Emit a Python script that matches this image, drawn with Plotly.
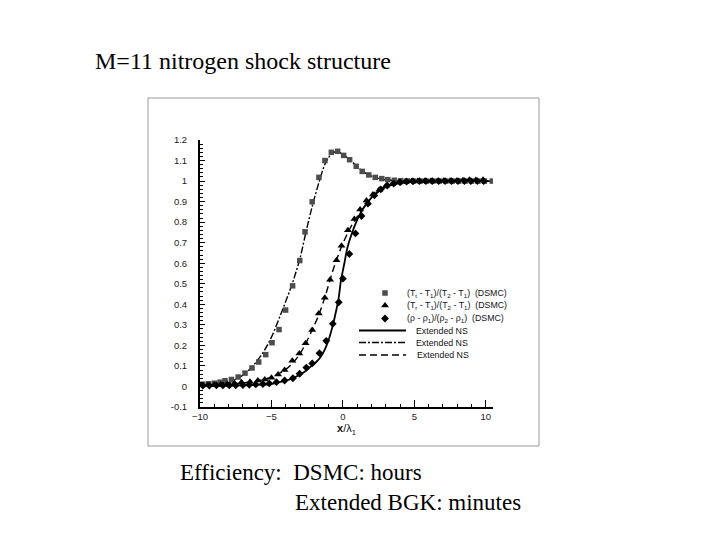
import plotly.graph_objects as go

# ---------------- data ----------------
# DSMC translational temperature  (T_t - T1)/(T2 - T1)
tt_x = [-9.8, -9.4, -9.0, -8.6, -8.25, -7.8, -7.33, -6.85, -6.36, -5.89, -5.4, -4.96,
        -4.47, -4.01, -3.52, -3.02, -2.65, -2.15, -1.68, -1.26, -0.81, -0.37, 0.05, 0.47,
        0.93, 1.35, 1.81, 2.26, 2.72, 3.14, 3.6, 4.05, 4.5, 4.95, 5.4, 5.85, 6.3, 6.75,
        7.2, 7.65, 8.1, 8.55, 9.0, 9.45, 9.9, 10.45]
tt_y = [0.011, 0.013, 0.016, 0.021, 0.028, 0.034, 0.046, 0.065, 0.09, 0.119, 0.155, 0.213,
        0.277, 0.372, 0.49, 0.613, 0.753, 0.899, 1.018, 1.10, 1.14, 1.145, 1.125, 1.104,
        1.072, 1.047, 1.03, 1.018, 1.012, 1.007, 1.004, 1.002, 1.001, 1.0, 1.0, 1.0, 1.0,
        1.0, 1.0, 1.0, 1.0, 1.0, 1.0, 1.0, 1.0, 1.0]

# DSMC rotational temperature  (T_r - T1)/(T2 - T1)
tr_x = [-9.9, -9.45, -9.0, -8.55, -8.1, -7.6, -7.1, -6.5, -5.95, -5.47, -5.0, -4.54,
        -4.08, -3.54, -3.05, -2.61, -2.15, -1.69, -1.27, -0.9, -0.45, -0.1, 0.35, 0.8,
        1.2, 1.65, 2.1, 2.55, 3.0, 3.45, 3.9, 4.35, 4.8, 5.25, 5.7, 6.15, 6.6, 7.05,
        7.5, 7.95, 8.4, 8.85, 9.3, 9.8]
tr_y = [0.006, 0.007, 0.008, 0.01, 0.012, 0.016, 0.02, 0.023, 0.029, 0.034, 0.043, 0.058,
        0.08, 0.125, 0.16, 0.21, 0.275, 0.355, 0.432, 0.52, 0.615, 0.685, 0.76, 0.815,
        0.862, 0.905, 0.935, 0.958, 0.975, 0.985, 0.992, 0.996, 0.999, 1.0, 1.0, 1.0,
        1.0, 1.001, 1.001, 1.002, 1.004, 1.006, 1.005, 1.006]

# DSMC density  (rho - rho1)/(rho2 - rho1)
rho_x = [-9.8, -9.35, -8.85, -8.4, -7.95, -7.5, -7.0, -6.55, -6.1, -5.6, -5.15, -4.65,
         -4.08, -3.5, -3.03, -2.56, -2.15, -1.64, -1.17, -0.71, -0.29, 0.0, 0.45, 0.88,
         1.3, 1.75, 2.2, 2.65, 3.1, 3.55, 4.0, 4.45, 4.9, 5.35, 5.8, 6.25, 6.7, 7.15,
         7.6, 8.05, 8.5, 8.95, 9.4, 9.85]
rho_y = [0.004, 0.004, 0.005, 0.005, 0.005, 0.006, 0.007, 0.008, 0.01, 0.012, 0.015, 0.021,
         0.029, 0.04, 0.062, 0.092, 0.112, 0.162, 0.222, 0.305, 0.41, 0.525, 0.645, 0.745,
         0.83, 0.89, 0.93, 0.96, 0.978, 0.988, 0.994, 0.997, 0.999, 1.0, 1.0, 1.0, 1.0,
         1.0, 1.0, 1.0, 1.0, 1.0, 1.0, 1.0]

# Extended NS curves
ns_tt_x = [-10, -9, -8.5, -8, -7.5, -7, -6.5, -6, -5.5, -5, -4.5, -4, -3.5, -3, -2.56,
           -2.1, -1.65, -1.3, -1.0, -0.7, -0.45, -0.2, 0.1, 0.4, 0.7, 1.0, 1.5, 2.0, 2.5,
           3.0, 3.5, 4.0, 5.0, 6.0, 8.0, 10.5]
ns_tt_y = [0.006, 0.008, 0.012, 0.018, 0.035, 0.055, 0.085, 0.125, 0.175, 0.24, 0.325,
           0.415, 0.51, 0.625, 0.76, 0.89, 1.0, 1.075, 1.115, 1.137, 1.143, 1.138, 1.125,
           1.108, 1.09, 1.07, 1.042, 1.024, 1.013, 1.007, 1.004, 1.002, 1.0, 1.0, 1.0, 1.0]

ns_tr_x = [-10, -9, -8, -7, -6, -5, -4.5, -4, -3.5, -3, -2.6, -2.2, -1.8, -1.4, -1.0,
           -0.7, -0.4, -0.1, 0.2, 0.5, 0.8, 1.2, 1.6, 2.0, 2.5, 3.0, 3.5, 4.0, 4.5, 5.0,
           6.0, 10.5]
ns_tr_y = [0.004, 0.006, 0.01, 0.017, 0.027, 0.045, 0.062, 0.083, 0.115, 0.16, 0.21, 0.268,
           0.33, 0.405, 0.495, 0.565, 0.625, 0.68, 0.728, 0.77, 0.805, 0.848, 0.885, 0.917,
           0.948, 0.97, 0.984, 0.992, 0.996, 0.999, 1.0, 1.0]

ns_rho_x = [-10, -8, -6, -5, -4.43, -4, -3.5, -3, -2.56, -2.2, -1.87, -1.6, -1.41, -1.2,
            -0.94, -0.7, -0.47, -0.3, -0.13, 0.0, 0.1, 0.33, 0.6, 0.9, 1.2, 1.6, 2.0, 2.5,
            3.0, 3.5, 4.0, 5.0, 6.0, 10.5]
ns_rho_y = [0.002, 0.004, 0.008, 0.012, 0.021, 0.028, 0.04, 0.058, 0.078, 0.1, 0.119, 0.14,
            0.16, 0.19, 0.24, 0.3, 0.37, 0.43, 0.52, 0.565, 0.6, 0.68, 0.74, 0.795, 0.84,
            0.885, 0.92, 0.952, 0.973, 0.986, 0.993, 0.999, 1.0, 1.0]

legend_labels = [
    "(T<sub>t</sub> - T<sub>1</sub>)/(T<sub>2</sub> - T<sub>1</sub>)  (DSMC)",
    "(T<sub>r</sub> - T<sub>1</sub>)/(T<sub>2</sub> - T<sub>1</sub>)  (DSMC)",
    "(ρ - ρ<sub>1</sub>)/(ρ<sub>2</sub> - ρ<sub>1</sub>)  (DSMC)",
    "Extended NS", "Extended NS", "Extended NS",
]
x_ticks = [-10, -5, 0, 5, 10]
y_ticks = [-0.1, 0, 0.1, 0.2, 0.3, 0.4, 0.5, 0.6, 0.7, 0.8, 0.9, 1, 1.1, 1.2]

title_text = "M=11 nitrogen shock structure"
note_line1 = "Efficiency:&nbsp;&nbsp;DSMC: hours"
note_line2 = "Extended BGK: minutes"

# ---------------- figure ----------------
# the page body has an 8px margin, so the figure is drawn 8px in from the window corner
OFF = 8
W, H = 720 - OFF, 540 - OFF
SANS = "Liberation Sans, Arial, sans-serif"
SERIF = "Liberation Serif, Times New Roman, serif"


def px(v):
    """window pixel -> figure pixel"""
    return v - OFF


SQ = dict(symbol="square", size=5.5, color="#4d4d4d")
TRI = dict(symbol="triangle-up", size=7, color="black")
DIA = dict(symbol="diamond", size=6, color="black")

fig = go.Figure()

line_style = dict(color="black", width=1.4)
fig.add_trace(go.Scatter(x=ns_tt_x, y=ns_tt_y, mode="lines", line_shape="spline",
                         line=dict(line_style, dash="7px,2px,2px,2px"), showlegend=False))
fig.add_trace(go.Scatter(x=ns_tr_x, y=ns_tr_y, mode="lines", line_shape="spline",
                         line=dict(line_style, dash="7px,4px"), showlegend=False))
fig.add_trace(go.Scatter(x=ns_rho_x, y=ns_rho_y, mode="lines", line_shape="spline",
                         line=dict(color="black", width=1.8), showlegend=False))

fig.add_trace(go.Scatter(x=tt_x, y=tt_y, mode="markers", showlegend=False, marker=SQ))
fig.add_trace(go.Scatter(x=tr_x, y=tr_y, mode="markers", showlegend=False, marker=TRI))
fig.add_trace(go.Scatter(x=rho_x, y=rho_y, mode="markers", showlegend=False, marker=DIA))

# legend, drawn in a pixel-coordinate overlay axis
leg_marker_x = px(385)
leg_rows_y = [px(v) for v in [293, 305.5, 318.5, 330.5, 342.5, 355]]
for mk, yy in zip([SQ, TRI, DIA], leg_rows_y[:3]):
    fig.add_trace(go.Scatter(x=[leg_marker_x], y=[yy], xaxis="x2", yaxis="y2", mode="markers",
                             marker=mk, showlegend=False, hoverinfo="skip"))
leg_dashes = ["solid", "7px,2px,2px,2px", "7px,4px"]
for d, yy in zip(leg_dashes, leg_rows_y[3:]):
    fig.add_shape(type="line", xref="x2", yref="y2", x0=px(359), x1=px(406), y0=yy, y1=yy,
                  line=dict(color="black", width=1.4 if d != "solid" else 1.8, dash=d))
leg_text_x = [px(v) for v in [405, 405, 405, 414, 414, 415]]
for lab, xx, yy in zip(legend_labels, leg_text_x, leg_rows_y):
    fig.add_annotation(x=xx, y=yy, xref="x2", yref="y2", text=lab, showarrow=False,
                       xanchor="left", yanchor="middle",
                       font=dict(family=SANS, size=8.8, color="#111"))

# image frame
fig.add_shape(type="rect", xref="x2", yref="y2", x0=px(148), x1=px(539), y0=px(98), y1=px(446),
              line=dict(color="#9a9a9a", width=1), layer="below")

# slide texts
fig.add_annotation(x=px(93), y=px(61), xref="x2", yref="y2", text=title_text, showarrow=False,
                   xanchor="left", yanchor="middle", font=dict(family=SERIF, size=24, color="black"))
fig.add_annotation(x=px(178), y=px(472), xref="x2", yref="y2", text=note_line1, showarrow=False,
                   xanchor="left", yanchor="middle", font=dict(family=SERIF, size=23, color="black"))
fig.add_annotation(x=px(293), y=px(502), xref="x2", yref="y2", text=note_line2, showarrow=False,
                   xanchor="left", yanchor="middle", font=dict(family=SERIF, size=23, color="black"))

x0px, x1px, ytop, ybot = px(200), px(493), px(140), px(407)
fig.update_layout(
    width=W, height=H,
    margin=dict(l=0, r=0, t=0, b=0),
    paper_bgcolor="white", plot_bgcolor="rgba(0,0,0,0)",
    xaxis=dict(domain=[x0px / W, x1px / W], range=[-10, 10.5], tickvals=x_ticks,
               ticks="inside", ticklen=7, tickwidth=1.2, tickcolor="black",
               minor=dict(ticks="inside", dtick=1, ticklen=3, tickcolor="black", tickwidth=1),
               showline=True, linecolor="black", linewidth=2, showgrid=False, zeroline=False,
               tickfont=dict(family=SANS, size=9.5, color="#222"),
               title=dict(text="<b>x</b>/λ<sub>1</sub>", standoff=0,
                          font=dict(family=SANS, size=11, color="#111")),
               anchor="y", automargin=False),
    yaxis=dict(domain=[1 - ybot / H, 1 - ytop / H], range=[-0.1, 1.2], tickvals=y_ticks,
               ticktext=[("%g" % v) for v in y_ticks],
               ticks="inside", ticklen=5, tickwidth=1.2, tickcolor="black",
               minor=dict(ticks="inside", dtick=0.02, ticklen=3, tickcolor="black", tickwidth=1),
               showline=True, linecolor="black", linewidth=2, showgrid=False, zeroline=False,
               tickfont=dict(family=SANS, size=9.5, color="#222"), ticklabelstandoff=9,
               anchor="x", automargin=False),
    xaxis2=dict(domain=[0, 1], range=[0, W], visible=False, anchor="y2", fixedrange=True),
    yaxis2=dict(domain=[0, 1], range=[H, 0], visible=False, anchor="x2", fixedrange=True),
    showlegend=False,
)

fig.write_html("out.html")
